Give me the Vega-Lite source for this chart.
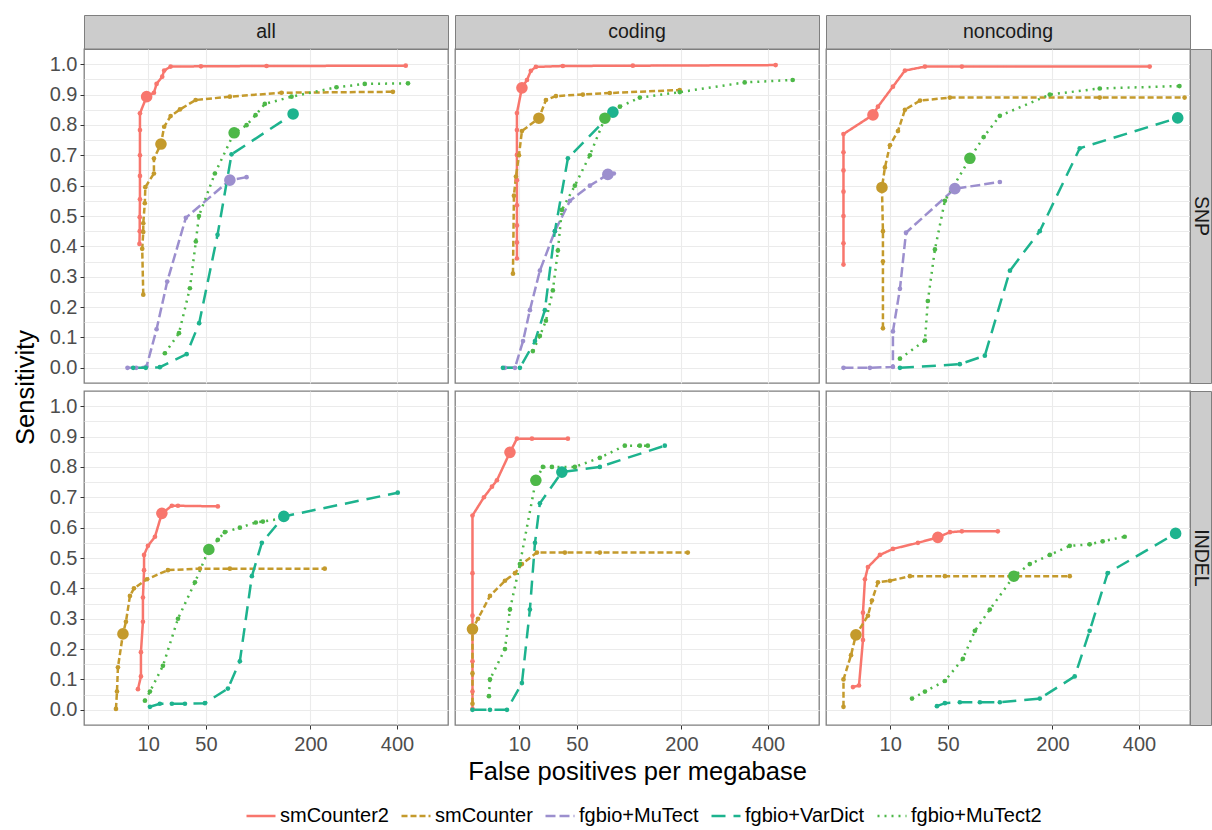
{
"$schema":"https://vega.github.io/schema/vega-lite/v6.json",
"autosize":{"type":"pad"},
"padding":{"left":12,"top":14,"right":0,"bottom":0},
"bounds":"flush",
"align":"each",
"columns":6,
"spacing":0,
"config":{
 "font":"Liberation Sans",
 "view":{"stroke":"#7f7f7f","strokeWidth":1.3},
 "axis":{"gridColor":"#ebebeb","gridWidth":1.1,"domain":false,"tickColor":"#333333","tickSize":4,"labelColor":"#4d4d4d","labelFontSize":20,"labelPadding":3,"titleFontWeight":"normal","titleColor":"#000000","titleFontSize":25.5},
 "text":{"font":"Liberation Sans"}
},
"datasets":{
"aS":[
{"m":"smCounter2","i":1,"x":6.6,"y":0.408},{"m":"smCounter2","i":2,"x":6.7,"y":0.45},{"m":"smCounter2","i":3,"x":6.7,"y":0.496},{"m":"smCounter2","i":4,"x":6.78,"y":0.555},{"m":"smCounter2","i":5,"x":6.78,"y":0.632},{"m":"smCounter2","i":6,"x":6.78,"y":0.70},{"m":"smCounter2","i":7,"x":6.78,"y":0.783},{"m":"smCounter2","i":8,"x":6.78,"y":0.838},{"m":"smCounter2","i":9,"x":9.34,"y":0.893,"b":1},{"m":"smCounter2","i":10,"x":12.6,"y":0.906},{"m":"smCounter2","i":11,"x":13.9,"y":0.935},{"m":"smCounter2","i":12,"x":16.9,"y":0.959},{"m":"smCounter2","i":13,"x":18,"y":0.979},{"m":"smCounter2","i":14,"x":21.9,"y":0.992},{"m":"smCounter2","i":15,"x":45.3,"y":0.993},{"m":"smCounter2","i":16,"x":124.8,"y":0.994},{"m":"smCounter2","i":17,"x":424,"y":0.995},
{"m":"smCounter","i":1,"x":8,"y":0.241},{"m":"smCounter","i":2,"x":7.6,"y":0.392},{"m":"smCounter","i":3,"x":8,"y":0.447},{"m":"smCounter","i":4,"x":8,"y":0.476},{"m":"smCounter","i":5,"x":8.6,"y":0.542},{"m":"smCounter","i":6,"x":8.8,"y":0.595},{"m":"smCounter","i":7,"x":12.6,"y":0.64},{"m":"smCounter","i":8,"x":12.6,"y":0.689},{"m":"smCounter","i":9,"x":16.2,"y":0.737,"b":1},{"m":"smCounter","i":10,"x":18,"y":0.794},{"m":"smCounter","i":11,"x":21.9,"y":0.829},{"m":"smCounter","i":12,"x":28.2,"y":0.851},{"m":"smCounter","i":13,"x":40.6,"y":0.882},{"m":"smCounter","i":14,"x":75.5,"y":0.893},{"m":"smCounter","i":15,"x":148.4,"y":0.906},{"m":"smCounter","i":16,"x":389,"y":0.909},
{"m":"fgbio+MuTect","i":1,"x":3.1,"y":0},{"m":"fgbio+MuTect","i":2,"x":5.5,"y":0},{"m":"fgbio+MuTect","i":3,"x":9.3,"y":0.004},{"m":"fgbio+MuTect","i":4,"x":13.9,"y":0.127},{"m":"fgbio+MuTect","i":5,"x":19.8,"y":0.284},{"m":"fgbio+MuTect","i":6,"x":32.6,"y":0.494},{"m":"fgbio+MuTect","i":7,"x":75.5,"y":0.618,"b":1},{"m":"fgbio+MuTect","i":8,"x":96.4,"y":0.628},
{"m":"fgbio+VarDict","i":1,"x":4.6,"y":0},{"m":"fgbio+VarDict","i":2,"x":9,"y":0},{"m":"fgbio+VarDict","i":3,"x":15.6,"y":0.002},{"m":"fgbio+VarDict","i":4,"x":33.2,"y":0.045},{"m":"fgbio+VarDict","i":5,"x":43.7,"y":0.147},{"m":"fgbio+VarDict","i":6,"x":61.7,"y":0.438},{"m":"fgbio+VarDict","i":7,"x":77.5,"y":0.703},{"m":"fgbio+VarDict","i":8,"x":168.2,"y":0.836,"b":1},
{"m":"fgbio+MuTect2","i":1,"x":18.4,"y":0.048},{"m":"fgbio+MuTect2","i":2,"x":27.5,"y":0.114},{"m":"fgbio+MuTect2","i":3,"x":35.8,"y":0.262},{"m":"fgbio+MuTect2","i":4,"x":40.8,"y":0.416},{"m":"fgbio+MuTect2","i":5,"x":43.5,"y":0.5},{"m":"fgbio+MuTect2","i":6,"x":58.9,"y":0.64},{"m":"fgbio+MuTect2","i":7,"x":80.6,"y":0.774,"b":1},{"m":"fgbio+MuTect2","i":8,"x":96.4,"y":0.799},{"m":"fgbio+MuTect2","i":9,"x":108.7,"y":0.832},{"m":"fgbio+MuTect2","i":10,"x":122.2,"y":0.869},{"m":"fgbio+MuTect2","i":11,"x":165.4,"y":0.893},{"m":"fgbio+MuTect2","i":12,"x":252.9,"y":0.924},{"m":"fgbio+MuTect2","i":13,"x":317.5,"y":0.935},{"m":"fgbio+MuTect2","i":14,"x":430.3,"y":0.937}
],
"cS":[
{"m":"smCounter2","i":1,"x":9.05,"y":0.36},{"m":"smCounter2","i":2,"x":9.05,"y":0.413},{"m":"smCounter2","i":3,"x":9.05,"y":0.469},{"m":"smCounter2","i":4,"x":9.05,"y":0.535},{"m":"smCounter2","i":5,"x":9.05,"y":0.618},{"m":"smCounter2","i":6,"x":9.05,"y":0.701},{"m":"smCounter2","i":7,"x":9.05,"y":0.783},{"m":"smCounter2","i":8,"x":9.05,"y":0.839},{"m":"smCounter2","i":9,"x":11.2,"y":0.922,"b":1},{"m":"smCounter2","i":10,"x":13.6,"y":0.948},{"m":"smCounter2","i":11,"x":15.6,"y":0.978},{"m":"smCounter2","i":12,"x":18.4,"y":0.991},{"m":"smCounter2","i":13,"x":37.4,"y":0.994},{"m":"smCounter2","i":14,"x":117.8,"y":0.995},{"m":"smCounter2","i":15,"x":421,"y":0.997},
{"m":"smCounter","i":1,"x":7.5,"y":0.31},{"m":"smCounter","i":2,"x":7.87,"y":0.567},{"m":"smCounter","i":3,"x":8.65,"y":0.63},{"m":"smCounter","i":4,"x":9.89,"y":0.70},{"m":"smCounter","i":5,"x":11.2,"y":0.78},{"m":"smCounter","i":6,"x":20.2,"y":0.822,"b":1},{"m":"smCounter","i":7,"x":24.7,"y":0.882},{"m":"smCounter","i":8,"x":31.9,"y":0.895},{"m":"smCounter","i":9,"x":55.8,"y":0.9},{"m":"smCounter","i":10,"x":86.4,"y":0.905},{"m":"smCounter","i":11,"x":196.8,"y":0.915},
{"m":"fgbio+MuTect","i":1,"x":4.8,"y":0},{"m":"fgbio+MuTect","i":2,"x":8.26,"y":0},{"m":"fgbio+MuTect","i":3,"x":11.7,"y":0.088},{"m":"fgbio+MuTect","i":4,"x":15.1,"y":0.19},{"m":"fgbio+MuTect","i":5,"x":20.8,"y":0.32},{"m":"fgbio+MuTect","i":6,"x":31.1,"y":0.45},{"m":"fgbio+MuTect","i":7,"x":43.5,"y":0.55},{"m":"fgbio+MuTect","i":8,"x":63.1,"y":0.6},{"m":"fgbio+MuTect","i":9,"x":83.9,"y":0.637,"b":1},{"m":"fgbio+MuTect","i":10,"x":91.5,"y":0.64},
{"m":"fgbio+VarDict","i":1,"x":4.25,"y":0},{"m":"fgbio+VarDict","i":2,"x":10.3,"y":0},{"m":"fgbio+VarDict","i":3,"x":17.9,"y":0.088},{"m":"fgbio+VarDict","i":4,"x":24,"y":0.19},{"m":"fgbio+VarDict","i":5,"x":31.1,"y":0.45},{"m":"fgbio+VarDict","i":6,"x":41.7,"y":0.69},{"m":"fgbio+VarDict","i":7,"x":90.3,"y":0.842,"b":1},
{"m":"fgbio+MuTect2","i":1,"x":16.7,"y":0.055},{"m":"fgbio+MuTect2","i":2,"x":20.8,"y":0.105},{"m":"fgbio+MuTect2","i":3,"x":24.7,"y":0.155},{"m":"fgbio+MuTect2","i":4,"x":29.6,"y":0.255},{"m":"fgbio+MuTect2","i":5,"x":33.4,"y":0.386},{"m":"fgbio+MuTect2","i":6,"x":36.6,"y":0.52},{"m":"fgbio+MuTect2","i":7,"x":48,"y":0.6},{"m":"fgbio+MuTect2","i":8,"x":63.1,"y":0.7},{"m":"fgbio+MuTect2","i":9,"x":80.3,"y":0.822,"b":1},{"m":"fgbio+MuTect2","i":10,"x":99.5,"y":0.86},{"m":"fgbio+MuTect2","i":11,"x":128.3,"y":0.89},{"m":"fgbio+MuTect2","i":12,"x":196.8,"y":0.908},{"m":"fgbio+MuTect2","i":13,"x":339.4,"y":0.94},{"m":"fgbio+MuTect2","i":14,"x":469.7,"y":0.948}
],
"nS":[
{"m":"smCounter2","i":1,"x":0,"y":0.34},{"m":"smCounter2","i":2,"x":0,"y":0.41},{"m":"smCounter2","i":3,"x":0,"y":0.5},{"m":"smCounter2","i":4,"x":0,"y":0.58},{"m":"smCounter2","i":5,"x":0,"y":0.65},{"m":"smCounter2","i":6,"x":0,"y":0.71},{"m":"smCounter2","i":7,"x":0,"y":0.77},{"m":"smCounter2","i":8,"x":3.98,"y":0.833,"b":1},{"m":"smCounter2","i":9,"x":5.44,"y":0.86},{"m":"smCounter2","i":10,"x":11.2,"y":0.926},{"m":"smCounter2","i":11,"x":17.3,"y":0.979},{"m":"smCounter2","i":12,"x":30.4,"y":0.992},{"m":"smCounter2","i":13,"x":64.2,"y":0.992},{"m":"smCounter2","i":14,"x":429.5,"y":0.992},
{"m":"smCounter","i":1,"x":7.13,"y":0.13},{"m":"smCounter","i":2,"x":7.13,"y":0.35},{"m":"smCounter","i":3,"x":7.13,"y":0.45},{"m":"smCounter","i":4,"x":6.78,"y":0.594,"b":1},{"m":"smCounter","i":5,"x":7.87,"y":0.66},{"m":"smCounter","i":6,"x":9.89,"y":0.733},{"m":"smCounter","i":7,"x":13.6,"y":0.78},{"m":"smCounter","i":8,"x":17.3,"y":0.85},{"m":"smCounter","i":9,"x":26.8,"y":0.88},{"m":"smCounter","i":10,"x":51.8,"y":0.89},{"m":"smCounter","i":11,"x":300.8,"y":0.89},{"m":"smCounter","i":12,"x":533,"y":0.89},
{"m":"fgbio+MuTect","i":1,"x":0,"y":0},{"m":"fgbio+MuTect","i":2,"x":3.21,"y":0},{"m":"fgbio+MuTect","i":3,"x":11.2,"y":0.003},{"m":"fgbio+MuTect","i":4,"x":11.2,"y":0.12},{"m":"fgbio+MuTect","i":5,"x":14.6,"y":0.26},{"m":"fgbio+MuTect","i":6,"x":17.9,"y":0.445},{"m":"fgbio+MuTect","i":7,"x":56.8,"y":0.59,"b":1},{"m":"fgbio+MuTect","i":8,"x":112,"y":0.612},
{"m":"fgbio+VarDict","i":1,"x":14.6,"y":0},{"m":"fgbio+VarDict","i":2,"x":62,"y":0.012},{"m":"fgbio+VarDict","i":3,"x":91.5,"y":0.04},{"m":"fgbio+VarDict","i":4,"x":126.9,"y":0.32},{"m":"fgbio+VarDict","i":5,"x":176.5,"y":0.45},{"m":"fgbio+VarDict","i":6,"x":255.7,"y":0.723},{"m":"fgbio+VarDict","i":7,"x":511.7,"y":0.823,"b":1},
{"m":"fgbio+MuTect2","i":1,"x":14.6,"y":0.03},{"m":"fgbio+MuTect2","i":2,"x":30.4,"y":0.09},{"m":"fgbio+MuTect2","i":3,"x":32.6,"y":0.22},{"m":"fgbio+MuTect2","i":4,"x":38.3,"y":0.39},{"m":"fgbio+MuTect2","i":5,"x":47.1,"y":0.55},{"m":"fgbio+MuTect2","i":6,"x":73.2,"y":0.69,"b":1},{"m":"fgbio+MuTect2","i":7,"x":90,"y":0.76},{"m":"fgbio+MuTect2","i":8,"x":112,"y":0.83},{"m":"fgbio+MuTect2","i":9,"x":195,"y":0.9},{"m":"fgbio+MuTect2","i":10,"x":300.8,"y":0.92},{"m":"fgbio+MuTect2","i":11,"x":517,"y":0.928}
],
"aI":[
{"m":"smCounter2","i":1,"x":6.09,"y":0.068},{"m":"smCounter2","i":2,"x":7.13,"y":0.11},{"m":"smCounter2","i":3,"x":7.13,"y":0.19},{"m":"smCounter2","i":4,"x":7.87,"y":0.29},{"m":"smCounter2","i":5,"x":7.87,"y":0.37},{"m":"smCounter2","i":6,"x":8.3,"y":0.46},{"m":"smCounter2","i":7,"x":8.3,"y":0.51},{"m":"smCounter2","i":8,"x":9.89,"y":0.54},{"m":"smCounter2","i":9,"x":13.1,"y":0.57},{"m":"smCounter2","i":10,"x":16.7,"y":0.647,"b":1},{"m":"smCounter2","i":11,"x":22.7,"y":0.672},{"m":"smCounter2","i":12,"x":26.8,"y":0.672},{"m":"smCounter2","i":13,"x":62,"y":0.67},
{"m":"smCounter","i":1,"x":0.96,"y":0.003},{"m":"smCounter","i":2,"x":1.1,"y":0.06},{"m":"smCounter","i":3,"x":1.24,"y":0.14},{"m":"smCounter","i":4,"x":2.11,"y":0.25,"b":1},{"m":"smCounter","i":5,"x":2.74,"y":0.29},{"m":"smCounter","i":6,"x":3.71,"y":0.375},{"m":"smCounter","i":7,"x":4.83,"y":0.40},{"m":"smCounter","i":8,"x":9.46,"y":0.43},{"m":"smCounter","i":9,"x":20.2,"y":0.46},{"m":"smCounter","i":10,"x":44.4,"y":0.465},{"m":"smCounter","i":11,"x":75.5,"y":0.465},{"m":"smCounter","i":12,"x":228.3,"y":0.465},
{"m":"fgbio+VarDict","i":1,"x":10.75,"y":0.01},{"m":"fgbio+VarDict","i":2,"x":15.6,"y":0.02},{"m":"fgbio+VarDict","i":3,"x":22.7,"y":0.02},{"m":"fgbio+VarDict","i":4,"x":31.9,"y":0.02},{"m":"fgbio+VarDict","i":5,"x":49,"y":0.022},{"m":"fgbio+VarDict","i":6,"x":73.2,"y":0.07},{"m":"fgbio+VarDict","i":7,"x":87.7,"y":0.16},{"m":"fgbio+VarDict","i":8,"x":103.6,"y":0.44},{"m":"fgbio+VarDict","i":9,"x":117.8,"y":0.55},{"m":"fgbio+VarDict","i":10,"x":152.3,"y":0.637,"b":1},{"m":"fgbio+VarDict","i":11,"x":402,"y":0.715},
{"m":"fgbio+MuTect2","i":1,"x":8.65,"y":0.03},{"m":"fgbio+MuTect2","i":2,"x":10.75,"y":0.06},{"m":"fgbio+MuTect2","i":3,"x":17.3,"y":0.145},{"m":"fgbio+MuTect2","i":4,"x":26.8,"y":0.3},{"m":"fgbio+MuTect2","i":5,"x":40,"y":0.42},{"m":"fgbio+MuTect2","i":6,"x":52.8,"y":0.528,"b":1},{"m":"fgbio+MuTect2","i":7,"x":62,"y":0.56},{"m":"fgbio+MuTect2","i":8,"x":69.7,"y":0.585},{"m":"fgbio+MuTect2","i":9,"x":87.7,"y":0.6},{"m":"fgbio+MuTect2","i":10,"x":109.1,"y":0.617},{"m":"fgbio+MuTect2","i":11,"x":119.3,"y":0.62},{"m":"fgbio+MuTect2","i":12,"x":148.9,"y":0.63}
],
"cI":[
{"m":"smCounter2","i":1,"x":0,"y":0.003},{"m":"smCounter2","i":2,"x":0,"y":0.06},{"m":"smCounter2","i":3,"x":0,"y":0.16},{"m":"smCounter2","i":4,"x":0,"y":0.31},{"m":"smCounter2","i":5,"x":0,"y":0.45},{"m":"smCounter2","i":6,"x":0,"y":0.64},{"m":"smCounter2","i":7,"x":0.6,"y":0.7},{"m":"smCounter2","i":8,"x":1.74,"y":0.735},{"m":"smCounter2","i":9,"x":2.74,"y":0.756},{"m":"smCounter2","i":10,"x":6.43,"y":0.848,"b":1},{"m":"smCounter2","i":11,"x":9.05,"y":0.893},{"m":"smCounter2","i":12,"x":16.2,"y":0.893},{"m":"smCounter2","i":13,"x":41.7,"y":0.893},
{"m":"smCounter","i":1,"x":0,"y":0.02},{"m":"smCounter","i":2,"x":0,"y":0.12},{"m":"smCounter","i":3,"x":0,"y":0.266,"b":1},{"m":"smCounter","i":4,"x":0.14,"y":0.3},{"m":"smCounter","i":5,"x":1.4,"y":0.375},{"m":"smCounter","i":6,"x":4.83,"y":0.425},{"m":"smCounter","i":7,"x":8.26,"y":0.45},{"m":"smCounter","i":8,"x":11.2,"y":0.48},{"m":"smCounter","i":9,"x":19,"y":0.518},{"m":"smCounter","i":10,"x":39.1,"y":0.518},{"m":"smCounter","i":11,"x":74.3,"y":0.518},{"m":"smCounter","i":12,"x":212.3,"y":0.518},
{"m":"fgbio+VarDict","i":1,"x":0,"y":0},{"m":"fgbio+VarDict","i":2,"x":1.4,"y":0},{"m":"fgbio+VarDict","i":3,"x":5.44,"y":0},{"m":"fgbio+VarDict","i":4,"x":11.2,"y":0.088},{"m":"fgbio+VarDict","i":5,"x":15.1,"y":0.33},{"m":"fgbio+VarDict","i":6,"x":17.9,"y":0.55},{"m":"fgbio+VarDict","i":7,"x":20.8,"y":0.68},{"m":"fgbio+VarDict","i":8,"x":36.6,"y":0.783,"b":1},{"m":"fgbio+VarDict","i":9,"x":74.3,"y":0.8},{"m":"fgbio+VarDict","i":10,"x":169.4,"y":0.87},
{"m":"fgbio+MuTect2","i":1,"x":1.24,"y":0.045},{"m":"fgbio+MuTect2","i":2,"x":1.4,"y":0.1},{"m":"fgbio+MuTect2","i":3,"x":4.83,"y":0.2},{"m":"fgbio+MuTect2","i":4,"x":6.43,"y":0.33},{"m":"fgbio+MuTect2","i":5,"x":10.3,"y":0.48},{"m":"fgbio+MuTect2","i":6,"x":18.4,"y":0.756,"b":1},{"m":"fgbio+MuTect2","i":7,"x":22.7,"y":0.8},{"m":"fgbio+MuTect2","i":8,"x":28.9,"y":0.8},{"m":"fgbio+MuTect2","i":9,"x":48,"y":0.8},{"m":"fgbio+MuTect2","i":10,"x":74.3,"y":0.83},{"m":"fgbio+MuTect2","i":11,"x":106.3,"y":0.87},{"m":"fgbio+MuTect2","i":12,"x":128.3,"y":0.87},{"m":"fgbio+MuTect2","i":13,"x":140.8,"y":0.87}
],
"nI":[
{"m":"smCounter2","i":1,"x":0.41,"y":0.075},{"m":"smCounter2","i":2,"x":1.1,"y":0.08},{"m":"smCounter2","i":3,"x":1.74,"y":0.23},{"m":"smCounter2","i":4,"x":1.74,"y":0.32},{"m":"smCounter2","i":5,"x":2.11,"y":0.43},{"m":"smCounter2","i":6,"x":2.74,"y":0.47},{"m":"smCounter2","i":7,"x":6.09,"y":0.51},{"m":"smCounter2","i":8,"x":11.2,"y":0.53},{"m":"smCounter2","i":9,"x":25.4,"y":0.55},{"m":"smCounter2","i":10,"x":40.8,"y":0.568,"b":1},{"m":"smCounter2","i":11,"x":51.9,"y":0.585},{"m":"smCounter2","i":12,"x":64.2,"y":0.588},{"m":"smCounter2","i":13,"x":109.1,"y":0.588},
{"m":"smCounter","i":1,"x":0,"y":0.01},{"m":"smCounter","i":2,"x":0,"y":0.1},{"m":"smCounter","i":3,"x":0.26,"y":0.18},{"m":"smCounter","i":4,"x":0.71,"y":0.247,"b":1},{"m":"smCounter","i":5,"x":2.74,"y":0.31},{"m":"smCounter","i":6,"x":3.71,"y":0.36},{"m":"smCounter","i":7,"x":5.44,"y":0.42},{"m":"smCounter","i":8,"x":9.89,"y":0.425},{"m":"smCounter","i":9,"x":20.2,"y":0.44},{"m":"smCounter","i":10,"x":47.1,"y":0.44},{"m":"smCounter","i":11,"x":234.5,"y":0.44},
{"m":"fgbio+VarDict","i":1,"x":40,"y":0.012},{"m":"fgbio+VarDict","i":2,"x":47.1,"y":0.022},{"m":"fgbio+VarDict","i":3,"x":62,"y":0.025},{"m":"fgbio+VarDict","i":4,"x":85.2,"y":0.025},{"m":"fgbio+VarDict","i":5,"x":112,"y":0.025},{"m":"fgbio+VarDict","i":6,"x":176.5,"y":0.037},{"m":"fgbio+VarDict","i":7,"x":244.9,"y":0.11},{"m":"fgbio+VarDict","i":8,"x":277.6,"y":0.26},{"m":"fgbio+VarDict","i":9,"x":319.6,"y":0.45},{"m":"fgbio+VarDict","i":10,"x":505.3,"y":0.581,"b":1},
{"m":"fgbio+MuTect2","i":1,"x":21.5,"y":0.037},{"m":"fgbio+MuTect2","i":2,"x":30.4,"y":0.06},{"m":"fgbio+MuTect2","i":3,"x":47.1,"y":0.095},{"m":"fgbio+MuTect2","i":4,"x":65.3,"y":0.168},{"m":"fgbio+MuTect2","i":5,"x":79.1,"y":0.26},{"m":"fgbio+MuTect2","i":6,"x":98.1,"y":0.33},{"m":"fgbio+MuTect2","i":7,"x":132.9,"y":0.44,"b":1},{"m":"fgbio+MuTect2","i":8,"x":159,"y":0.48},{"m":"fgbio+MuTect2","i":9,"x":195,"y":0.51},{"m":"fgbio+MuTect2","i":10,"x":234.5,"y":0.54},{"m":"fgbio+MuTect2","i":11,"x":277.6,"y":0.545},{"m":"fgbio+MuTect2","i":12,"x":307.7,"y":0.555},{"m":"fgbio+MuTect2","i":13,"x":362.2,"y":0.57}
]
},
"concat":[
{"width":364,"height":34,"data":{"values":[{"label":"all"}]},"mark":{"type":"text","fontSize":19.5,"color":"#1a1a1a","baseline":"middle","align":"center"},"encoding":{"text":{"field":"label"}},"view":{"fill":"#cccccc","stroke":"#7f7f7f"}},
{"width":7,"height":8,"data":{"values":[]},"mark":"point","view":{"stroke":null}},
{"width":364,"height":34,"data":{"values":[{"label":"coding"}]},"mark":{"type":"text","fontSize":19.5,"color":"#1a1a1a","baseline":"middle","align":"center"},"encoding":{"text":{"field":"label"}},"view":{"fill":"#cccccc","stroke":"#7f7f7f"}},
{"width":7,"height":8,"data":{"values":[]},"mark":"point","view":{"stroke":null}},
{"width":364,"height":34,"data":{"values":[{"label":"noncoding"}]},"mark":{"type":"text","fontSize":19.5,"color":"#1a1a1a","baseline":"middle","align":"center"},"encoding":{"text":{"field":"label"}},"view":{"fill":"#cccccc","stroke":"#7f7f7f"}},
{"width":7,"height":8,"data":{"values":[]},"mark":"point","view":{"stroke":null}},

{"width":364,"height":334,"data":{"name":"aS"},
 "encoding":{
  "x":{"field":"x","type":"quantitative","scale":{"type":"sqrt","domain":[-1.4,550],"zero":false,"nice":false},"axis":{"values":[10,50,200,400],"labels":false,"ticks":false,"title":null}},
  "y":{"field":"y","type":"quantitative","scale":{"domain":[-0.05,1.05],"zero":false,"nice":false},"axis":{"values":[0,0.05,0.1,0.15,0.2,0.25,0.3,0.35,0.4,0.45,0.5,0.55,0.6,0.65,0.7,0.75,0.8,0.85,0.9,0.95,1.0],"labelExpr":"round(datum.value*100)%10==0 ? format(datum.value,'.1f') : ''","tickOpacity":{"condition":{"test":"round(datum.value*100)%10!=0","value":0},"value":1},"title":"Sensitivity","titleY":338,"titlePadding":11}},
  "color":{"field":"m","type":"nominal","scale":{"domain":["smCounter2","smCounter","fgbio+MuTect","fgbio+VarDict","fgbio+MuTect2"],"range":["#F8766D","#C49A2C","#9C8FCE","#1DB38E","#4DB848"]},"legend":{"title":null,"orient":"none","legendX":161,"legendY":785,"direction":"horizontal","symbolType":"stroke","symbolStrokeWidth":2.5,"symbolSize":841,"labelFontSize":20,"labelColor":"#000000","columnPadding":7,"labelOffset":3}}
 },
 "layer":[
  {"mark":{"type":"line","strokeWidth":2.5},"encoding":{"order":{"field":"i","type":"quantitative"},"strokeDash":{"field":"m","type":"nominal","scale":{"domain":["smCounter2","smCounter","fgbio+MuTect","fgbio+VarDict","fgbio+MuTect2"],"range":[[1,0],[6,3],[10,4],[14,8],[2,5]]},"legend":{"title":null,"orient":"none","legendX":161,"legendY":785,"direction":"horizontal","symbolType":"stroke","symbolStrokeWidth":2.5,"symbolSize":841,"labelFontSize":20,"labelColor":"#000000","columnPadding":7,"labelOffset":3}}}},
  {"mark":{"type":"circle","size":22,"opacity":1}},
  {"transform":[{"filter":"datum.b==1"}],"mark":{"type":"circle","size":135,"opacity":1}}
 ]},
{"width":7,"height":8,"data":{"values":[]},"mark":"point","view":{"stroke":null}},
{"width":364,"height":334,"data":{"name":"cS"},
 "encoding":{
  "x":{"field":"x","type":"quantitative","scale":{"type":"sqrt","domain":[-1.4,550],"zero":false,"nice":false},"axis":{"values":[10,50,200,400],"labels":false,"ticks":false,"title":null}},
  "y":{"field":"y","type":"quantitative","scale":{"domain":[-0.05,1.05],"zero":false,"nice":false},"axis":{"values":[0,0.05,0.1,0.15,0.2,0.25,0.3,0.35,0.4,0.45,0.5,0.55,0.6,0.65,0.7,0.75,0.8,0.85,0.9,0.95,1.0],"labels":false,"ticks":false,"title":null}},
  "color":{"field":"m","type":"nominal","scale":{"domain":["smCounter2","smCounter","fgbio+MuTect","fgbio+VarDict","fgbio+MuTect2"],"range":["#F8766D","#C49A2C","#9C8FCE","#1DB38E","#4DB848"]}}
 },
 "layer":[
  {"mark":{"type":"line","strokeWidth":2.5},"encoding":{"order":{"field":"i","type":"quantitative"},"strokeDash":{"field":"m","type":"nominal","scale":{"domain":["smCounter2","smCounter","fgbio+MuTect","fgbio+VarDict","fgbio+MuTect2"],"range":[[1,0],[6,3],[10,4],[14,8],[2,5]]}}}},
  {"mark":{"type":"circle","size":22,"opacity":1}},
  {"transform":[{"filter":"datum.b==1"}],"mark":{"type":"circle","size":135,"opacity":1}}
 ]},
{"width":7,"height":8,"data":{"values":[]},"mark":"point","view":{"stroke":null}},
{"width":364,"height":334,"data":{"name":"nS"},
 "encoding":{
  "x":{"field":"x","type":"quantitative","scale":{"type":"sqrt","domain":[-1.4,550],"zero":false,"nice":false},"axis":{"values":[10,50,200,400],"labels":false,"ticks":false,"title":null}},
  "y":{"field":"y","type":"quantitative","scale":{"domain":[-0.05,1.05],"zero":false,"nice":false},"axis":{"values":[0,0.05,0.1,0.15,0.2,0.25,0.3,0.35,0.4,0.45,0.5,0.55,0.6,0.65,0.7,0.75,0.8,0.85,0.9,0.95,1.0],"labels":false,"ticks":false,"title":null}},
  "color":{"field":"m","type":"nominal","scale":{"domain":["smCounter2","smCounter","fgbio+MuTect","fgbio+VarDict","fgbio+MuTect2"],"range":["#F8766D","#C49A2C","#9C8FCE","#1DB38E","#4DB848"]}}
 },
 "layer":[
  {"mark":{"type":"line","strokeWidth":2.5},"encoding":{"order":{"field":"i","type":"quantitative"},"strokeDash":{"field":"m","type":"nominal","scale":{"domain":["smCounter2","smCounter","fgbio+MuTect","fgbio+VarDict","fgbio+MuTect2"],"range":[[1,0],[6,3],[10,4],[14,8],[2,5]]}}}},
  {"mark":{"type":"circle","size":22,"opacity":1}},
  {"transform":[{"filter":"datum.b==1"}],"mark":{"type":"circle","size":135,"opacity":1}}
 ]},
{"width":21,"height":334,"data":{"values":[{"label":"SNP"}]},"mark":{"type":"text","fontSize":19.5,"color":"#1a1a1a","angle":90,"baseline":"middle","align":"center"},"encoding":{"text":{"field":"label"}},"view":{"fill":"#cccccc","stroke":"#7f7f7f"}},

{"width":7,"height":8,"data":{"values":[]},"mark":"point","view":{"stroke":null}},
{"width":7,"height":8,"data":{"values":[]},"mark":"point","view":{"stroke":null}},
{"width":7,"height":8,"data":{"values":[]},"mark":"point","view":{"stroke":null}},
{"width":7,"height":8,"data":{"values":[]},"mark":"point","view":{"stroke":null}},
{"width":7,"height":8,"data":{"values":[]},"mark":"point","view":{"stroke":null}},
{"width":7,"height":8,"data":{"values":[]},"mark":"point","view":{"stroke":null}},

{"width":364,"height":334,"data":{"name":"aI"},
 "encoding":{
  "x":{"field":"x","type":"quantitative","scale":{"type":"sqrt","domain":[-1.4,550],"zero":false,"nice":false},"axis":{"values":[10,50,200,400],"title":null,"labelPadding":5}},
  "y":{"field":"y","type":"quantitative","scale":{"domain":[-0.05,1.05],"zero":false,"nice":false},"axis":{"values":[0,0.05,0.1,0.15,0.2,0.25,0.3,0.35,0.4,0.45,0.5,0.55,0.6,0.65,0.7,0.75,0.8,0.85,0.9,0.95,1.0],"labelExpr":"round(datum.value*100)%10==0 ? format(datum.value,'.1f') : ''","tickOpacity":{"condition":{"test":"round(datum.value*100)%10!=0","value":0},"value":1},"title":null}},
  "color":{"field":"m","type":"nominal","scale":{"domain":["smCounter2","smCounter","fgbio+MuTect","fgbio+VarDict","fgbio+MuTect2"],"range":["#F8766D","#C49A2C","#9C8FCE","#1DB38E","#4DB848"]}}
 },
 "layer":[
  {"mark":{"type":"line","strokeWidth":2.5},"encoding":{"order":{"field":"i","type":"quantitative"},"strokeDash":{"field":"m","type":"nominal","scale":{"domain":["smCounter2","smCounter","fgbio+MuTect","fgbio+VarDict","fgbio+MuTect2"],"range":[[1,0],[6,3],[10,4],[14,8],[2,5]]}}}},
  {"mark":{"type":"circle","size":22,"opacity":1}},
  {"transform":[{"filter":"datum.b==1"}],"mark":{"type":"circle","size":135,"opacity":1}}
 ]},
{"width":7,"height":8,"data":{"values":[]},"mark":"point","view":{"stroke":null}},
{"width":364,"height":334,"data":{"name":"cI"},
 "encoding":{
  "x":{"field":"x","type":"quantitative","scale":{"type":"sqrt","domain":[-1.4,550],"zero":false,"nice":false},"axis":{"values":[10,50,200,400],"title":"False positives per megabase","titlePadding":5,"labelPadding":5}},
  "y":{"field":"y","type":"quantitative","scale":{"domain":[-0.05,1.05],"zero":false,"nice":false},"axis":{"values":[0,0.05,0.1,0.15,0.2,0.25,0.3,0.35,0.4,0.45,0.5,0.55,0.6,0.65,0.7,0.75,0.8,0.85,0.9,0.95,1.0],"labels":false,"ticks":false,"title":null}},
  "color":{"field":"m","type":"nominal","scale":{"domain":["smCounter2","smCounter","fgbio+MuTect","fgbio+VarDict","fgbio+MuTect2"],"range":["#F8766D","#C49A2C","#9C8FCE","#1DB38E","#4DB848"]}}
 },
 "layer":[
  {"mark":{"type":"line","strokeWidth":2.5},"encoding":{"order":{"field":"i","type":"quantitative"},"strokeDash":{"field":"m","type":"nominal","scale":{"domain":["smCounter2","smCounter","fgbio+MuTect","fgbio+VarDict","fgbio+MuTect2"],"range":[[1,0],[6,3],[10,4],[14,8],[2,5]]}}}},
  {"mark":{"type":"circle","size":22,"opacity":1}},
  {"transform":[{"filter":"datum.b==1"}],"mark":{"type":"circle","size":135,"opacity":1}}
 ]},
{"width":7,"height":8,"data":{"values":[]},"mark":"point","view":{"stroke":null}},
{"width":364,"height":334,"data":{"name":"nI"},
 "encoding":{
  "x":{"field":"x","type":"quantitative","scale":{"type":"sqrt","domain":[-1.4,550],"zero":false,"nice":false},"axis":{"values":[10,50,200,400],"title":null,"labelPadding":5}},
  "y":{"field":"y","type":"quantitative","scale":{"domain":[-0.05,1.05],"zero":false,"nice":false},"axis":{"values":[0,0.05,0.1,0.15,0.2,0.25,0.3,0.35,0.4,0.45,0.5,0.55,0.6,0.65,0.7,0.75,0.8,0.85,0.9,0.95,1.0],"labels":false,"ticks":false,"title":null}},
  "color":{"field":"m","type":"nominal","scale":{"domain":["smCounter2","smCounter","fgbio+MuTect","fgbio+VarDict","fgbio+MuTect2"],"range":["#F8766D","#C49A2C","#9C8FCE","#1DB38E","#4DB848"]}}
 },
 "layer":[
  {"mark":{"type":"line","strokeWidth":2.5},"encoding":{"order":{"field":"i","type":"quantitative"},"strokeDash":{"field":"m","type":"nominal","scale":{"domain":["smCounter2","smCounter","fgbio+MuTect","fgbio+VarDict","fgbio+MuTect2"],"range":[[1,0],[6,3],[10,4],[14,8],[2,5]]}}}},
  {"mark":{"type":"circle","size":22,"opacity":1}},
  {"transform":[{"filter":"datum.b==1"}],"mark":{"type":"circle","size":135,"opacity":1}}
 ]},
{"width":21,"height":334,"data":{"values":[{"label":"INDEL"}]},"mark":{"type":"text","fontSize":19.5,"color":"#1a1a1a","angle":90,"baseline":"middle","align":"center"},"encoding":{"text":{"field":"label"}},"view":{"fill":"#cccccc","stroke":"#7f7f7f"}}
]
}
